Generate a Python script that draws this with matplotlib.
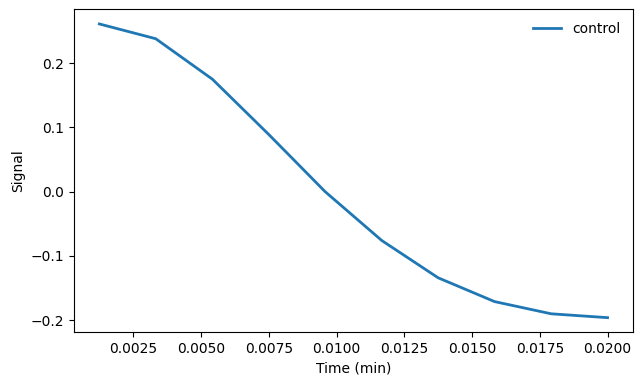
import matplotlib
matplotlib.use("Agg")
import matplotlib.pyplot as plt

# time points (min) and signal values
time_min = [0.00125, 0.00333, 0.00542, 0.0075, 0.00958,
            0.01167, 0.01375, 0.01583, 0.01792, 0.0200]
signal = [0.261, 0.238, 0.175, 0.089, 0.0,
          -0.076, -0.134, -0.171, -0.190, -0.196]

fig, ax = plt.subplots(figsize=(6.41, 3.86), dpi=100)
ax.plot(time_min, signal, color="#1f77b4", linewidth=2, label="control")
ax.set_xlabel("Time (min)")
ax.set_ylabel("Signal")
ax.legend(loc="upper right", frameon=False)
fig.subplots_adjust(left=0.1154, right=0.9875, top=0.976, bottom=0.139)
fig.savefig("out.png", dpi=100)
